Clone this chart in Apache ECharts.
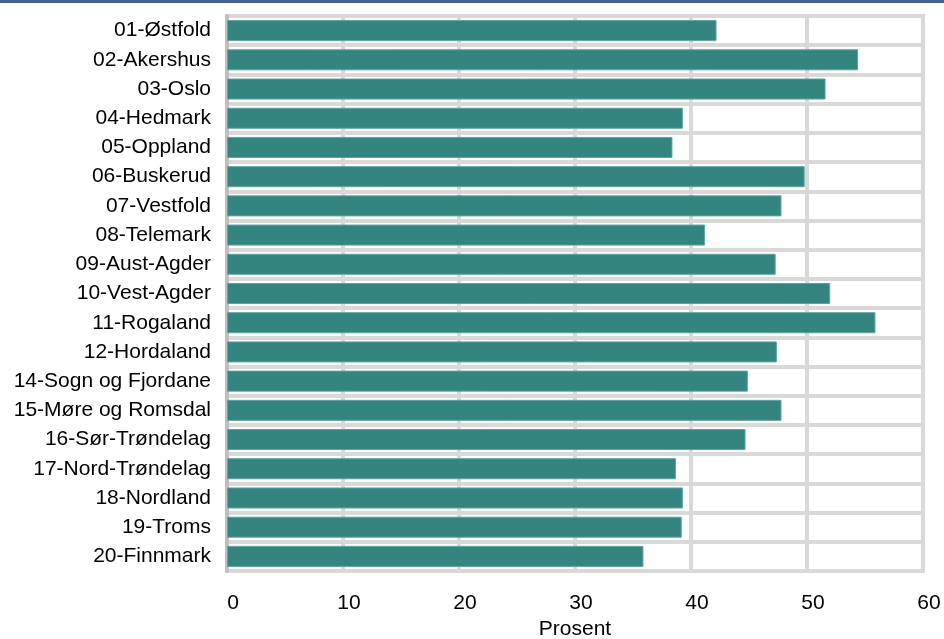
<!DOCTYPE html>
<html>
<head>
<meta charset="utf-8">
<script src="https://cdn.jsdelivr.net/npm/echarts@6/dist/echarts.min.js"></script>
<style>html,body{margin:0;padding:0;background:#fff}#c{width:944px;height:639px}</style>
</head>
<body>
<div id="c"></div>
<script>
var categories = ["01-Østfold","02-Akershus","03-Oslo","04-Hedmark","05-Oppland","06-Buskerud","07-Vestfold","08-Telemark","09-Aust-Agder","10-Vest-Agder","11-Rogaland","12-Hordaland","14-Sogn og Fjordane","15-Møre og Romsdal","16-Sør-Trøndelag","17-Nord-Trøndelag","18-Nordland","19-Troms","20-Finnmark"];
var values = [42.2, 54.4, 51.6, 39.3, 38.4, 49.8, 47.8, 41.2, 47.3, 52.0, 55.9, 47.4, 44.9, 47.8, 44.7, 38.7, 39.3, 39.2, 35.9];
var xTicks = [0, 10, 20, 30, 40, 50, 60];
var xName = "Prosent";

var chart = echarts.init(document.getElementById('c'), null, {renderer: 'canvas'});
var font = "'Liberation Sans', Arial, sans-serif";
chart.setOption({
  animation: false,
  textStyle: {fontFamily: font},
  graphic: [{type: 'rect', left: 0, top: 0, shape: {width: 944, height: 3}, style: {fill: '#445f8f'}, silent: true}],
  grid: {left: 227, right: 21, top: 16, bottom: 68, show: true, borderColor: '#d9d9d9', borderWidth: 4, backgroundColor: 'transparent', containLabel: false, outerBoundsMode: 'none'},
  xAxis: {
    type: 'value', min: xTicks[0], max: xTicks[xTicks.length - 1], interval: 10,
    name: xName, nameLocation: 'middle', nameGap: 48,
    nameTextStyle: {fontSize: 21, color: '#000', fontFamily: font},
    axisLine: {show: false}, axisTick: {show: false},
    axisLabel: {fontSize: 21, color: '#000', margin: 22, fontFamily: font, padding: [0, 0, 0, 12]},
    splitLine: {show: true, lineStyle: {color: '#d9d9d9', width: 4}}
  },
  yAxis: {
    type: 'category', data: categories, inverse: true,
    axisLine: {show: true, lineStyle: {color: '#bfbfbf', width: 4}},
    axisTick: {show: false},
    axisLabel: {fontSize: 21, color: '#000', margin: 16, fontFamily: font},
    splitLine: {show: true, lineStyle: {color: '#d9d9d9', width: 4}}
  },
  series: [{
    type: 'bar', data: values, barCategoryGap: '28%',
    itemStyle: {color: '#348480', borderColor: '#5fa3a0', borderWidth: 1}
  }]
});
</script>
</body>
</html>
